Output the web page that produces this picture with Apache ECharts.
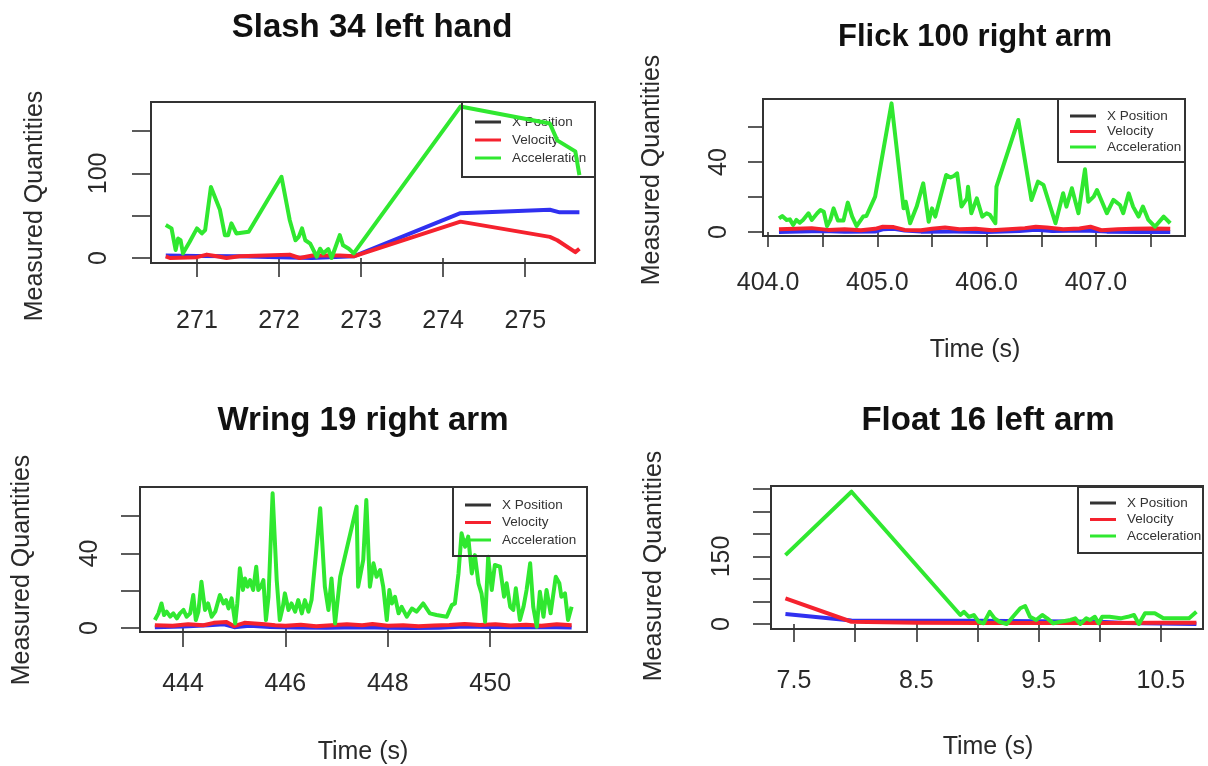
<!DOCTYPE html>
<html>
<head>
<meta charset="utf-8">
<script src="https://cdn.jsdelivr.net/npm/echarts@6.0.0/dist/echarts.min.js"></script>
<style>
html,body{margin:0;padding:0;background:#fff;}
#chart{width:1208px;height:766px;}
</style>
</head>
<body>
<div id="chart"></div>
<script>
// ---- data: [time (s), value] ----
const slashPos = [[270.62,3],[271.0,2.5],[271.5,2],[272.0,1],[272.4,0],[272.91,2],[274.21,53],[275.30,57],[275.42,54],[275.66,54]];
const slashVel = [[270.62,2],[270.67,0],[271.0,1],[271.12,4],[271.24,2],[271.36,0],[271.52,2],[272.13,4],[272.25,0],[272.41,3],[272.74,3],[272.91,2],[274.21,43],[275.30,25],[275.39,21],[275.61,7],[275.66,11]];
const slashAcc = [[270.62,39],[270.69,35],[270.71,33],[270.74,9.5],[270.77,23],[270.80,21],[270.83,5.5],[270.91,19],[271.00,35],[271.06,29],[271.10,33],[271.17,84],[271.28,57],[271.34,27],[271.38,27],[271.42,41],[271.48,29],[271.63,31],[272.03,96],[272.13,45],[272.20,21],[272.24,25],[272.28,35],[272.32,21],[272.38,17],[272.46,1.5],[272.50,11],[272.54,5.5],[272.60,10.6],[272.64,0],[272.68,10.6],[272.74,27],[272.78,15],[272.85,11],[272.91,5.5],[274.21,179],[275.30,159],[275.39,139],[275.61,126],[275.66,98]];

const flickPos = [[404.10,0],[404.30,0.3],[404.50,0.5],[404.70,0.2],[404.98,0.3],[405.05,1.5],[405.15,1.8],[405.25,0.8],[405.40,0.2],[405.70,0.3],[406.00,0],[406.30,0.5],[406.45,1.2],[406.60,0.6],[406.90,0.8],[407.10,0.2],[407.40,0],[407.68,0]];
const flickVel = [[404.10,1.5],[404.25,1.8],[404.40,2.2],[404.55,1.2],[404.70,1.5],[404.85,1.0],[404.98,1.8],[405.05,3.0],[405.15,2.8],[405.25,1.2],[405.40,1.0],[405.50,1.8],[405.62,2.6],[405.75,1.5],[405.90,1.8],[406.05,1.0],[406.20,1.5],[406.35,2.2],[406.45,3.0],[406.55,2.6],[406.70,1.5],[406.85,2.0],[406.95,3.0],[407.05,1.0],[407.20,1.5],[407.35,1.8],[407.50,2.0],[407.68,1.8]];
const flickAcc = [[404.10,7.8],[404.13,9.1],[404.17,6.9],[404.20,7.2],[404.23,4.0],[404.26,6.9],[404.29,5.3],[404.32,6.9],[404.37,10.7],[404.40,6.9],[404.45,10.7],[404.48,12.6],[404.51,11.6],[404.54,3.4],[404.57,6.9],[404.60,13.5],[404.64,6.5],[404.69,6.5],[404.73,16.8],[404.77,8.8],[404.81,3.4],[404.87,8.8],[404.90,9.1],[404.98,20.2],[405.13,73.5],[405.24,13.5],[405.26,17.3],[405.30,5.0],[405.36,14.5],[405.42,27.8],[405.47,5.9],[405.50,13.5],[405.53,8.8],[405.63,32.6],[405.67,31.2],[405.70,32],[405.73,33.5],[405.77,14.5],[405.82,19.2],[405.83,25.9],[405.86,10.7],[405.91,19.2],[405.96,8.8],[406.00,10.7],[406.03,9.8],[406.08,5.0],[406.09,25.9],[406.29,64],[406.41,18.3],[406.47,28.8],[406.52,26.9],[406.63,5.0],[406.70,22.1],[406.73,14.5],[406.78,25],[406.84,10.7],[406.90,35.8],[406.93,17.3],[406.98,20.2],[407.01,24],[407.10,10.7],[407.16,18.3],[407.22,15.4],[407.25,10.7],[407.30,22.1],[407.34,14.5],[407.39,8.8],[407.43,14.5],[407.48,6.9],[407.54,3.0],[407.62,8.8],[407.68,5.0]];

const wringPos = [[443.45,0.5],[444.0,0.8],[444.5,1.5],[444.8,2.0],[445.0,0.5],[445.3,1.2],[445.7,0.6],[446.2,0.3],[446.8,0.2],[447.5,0.4],[448.0,0.2],[448.5,0],[449.0,0.2],[449.5,0.8],[450.0,0.6],[450.5,0.4],[451.0,0.6],[451.59,0.3]];
const wringVel = [[443.45,1.5],[443.8,1.2],[444.1,2],[444.4,1.5],[444.6,2.8],[444.85,3.2],[445.0,1.0],[445.2,2.8],[445.4,2.5],[445.6,2.0],[445.8,1.5],[446.0,1.2],[446.3,1.8],[446.6,1.0],[446.9,1.5],[447.2,2.0],[447.5,1.5],[447.7,2.2],[448.0,1.2],[448.3,1.5],[448.6,1.0],[448.9,1.4],[449.2,1.6],[449.5,2.2],[449.8,1.6],[450.1,2.0],[450.4,1.4],[450.7,1.8],[451.0,1.2],[451.3,2.0],[451.59,1.5]];
const wringAcc = [[443.45,4.3],[443.52,7.9],[443.58,13.2],[443.63,7.0],[443.68,8.8],[443.75,6.1],[443.81,7.9],[443.88,5.2],[443.94,7.9],[444.01,9.7],[444.07,6.1],[444.14,7.9],[444.20,17.7],[444.25,4.3],[444.30,8.8],[444.36,24.8],[444.43,9.7],[444.49,13.2],[444.56,6.1],[444.63,8.8],[444.72,17.7],[444.79,13.2],[444.84,15.0],[444.89,10.5],[444.95,15.9],[445.02,2.5],[445.06,13.2],[445.11,32],[445.17,20.4],[445.21,26.6],[445.26,22.2],[445.31,25.7],[445.37,20.4],[445.43,32.9],[445.47,20.4],[445.52,22.2],[445.57,25.7],[445.62,4.3],[445.67,16.8],[445.75,72.2],[445.83,25.7],[445.89,4.3],[445.95,11.4],[445.99,18.6],[446.06,9.7],[446.12,13.2],[446.19,8.8],[446.25,15.0],[446.32,7.9],[446.38,15.0],[446.45,8.8],[446.51,15.0],[446.68,64.2],[446.77,22.2],[446.84,9.7],[446.90,26.6],[446.97,2.5],[447.07,27.5],[447.39,65.1],[447.42,22.2],[447.52,36.5],[447.58,68.6],[447.65,22.2],[447.72,34.7],[447.78,27.5],[447.85,31.1],[447.91,22.2],[447.98,4.3],[448.03,20.4],[448.08,13.2],[448.14,16.8],[448.21,7.9],[448.27,11.4],[448.37,6.1],[448.47,10.5],[448.56,8.8],[448.69,13.2],[448.82,7.9],[448.95,7.0],[449.15,6.1],[449.25,12.3],[449.31,13.2],[449.38,29.3],[449.44,50.8],[449.51,43.6],[449.57,49],[449.64,29.3],[449.70,39.1],[449.77,24],[449.83,18.6],[449.90,3.4],[449.96,38.2],[450.03,20.4],[450.09,33.8],[450.19,32.9],[450.27,16.8],[450.32,24],[450.39,11.4],[450.45,9.7],[450.50,21.3],[450.58,4.3],[450.65,11.4],[450.71,20.4],[450.78,34.7],[450.84,11.4],[450.91,0.7],[450.97,19.5],[451.04,6.1],[451.10,20.4],[451.18,7.9],[451.28,27.5],[451.35,24],[451.39,16.8],[451.46,18.6],[451.52,4.3],[451.59,11.4]];

const floatPos = [[7.43,22],[7.97,8],[8.5,7],[9.0,7],[9.5,6],[10.0,5],[10.2,2],[10.79,0]];
const floatVel = [[7.43,57],[7.97,5],[8.5,3],[9.0,2],[9.5,2],[10.0,2],[10.5,3],[10.79,3]];
const floatAcc = [[7.43,153],[7.97,294],[8.86,20],[8.89,27],[8.93,16],[8.97,20],[9.01,5],[9.05,1.5],[9.10,27],[9.14,12.6],[9.18,5],[9.24,0],[9.29,16],[9.35,35],[9.39,40],[9.43,16],[9.48,9],[9.53,20],[9.57,12.6],[9.62,1.5],[9.68,5],[9.76,9],[9.80,12.6],[9.84,0],[9.89,12.6],[9.92,9],[9.96,16],[9.99,1.5],[10.02,16],[10.08,16],[10.17,12.6],[10.23,16],[10.28,20],[10.32,0],[10.37,24],[10.45,24],[10.52,12.6],[10.62,12.6],[10.73,12.6],[10.79,27]];

const titles = ['Slash 34 left hand', 'Flick 100 right arm', 'Wring 19 right arm', 'Float 16 left arm'];
const seriesNames = ['X Position', 'Velocity', 'Acceleration'];
const slashXTicks = [271, 272, 273, 274, 275];
const flickXTicks = [404, 404.5, 405, 405.5, 406, 406.5, 407, 407.5];
const flickXLabels = [404, 405, 406, 407];
const wringXTicks = [444, 446, 448, 450];
const floatXTicks = [7.5, 8, 8.5, 9, 9.5, 10, 10.5];
const floatXLabels = [7.5, 8.5, 9.5, 10.5];
const slashYTicks = [0, 50, 100, 150];
const slashYLabels = [0, 100];
const smallYTicks = [0, 20, 40, 60];
const smallYLabels = [0, 40];
const floatYTicks = [0, 50, 100, 150, 200, 250, 300];
const floatYLabels = [0, 150];

const FONT = '"Liberation Sans", Arial, Helvetica, sans-serif';
const COLORS = ['#3030f0', '#f5222e', '#30e830'];
const INK = '#2a2a2a';

const panels = [
  { data: [slashPos, slashVel, slashAcc], box: [151, 102, 444, 161], x: [270.44, 275.85], y: [-5.9, 184.4],
    xTicks: slashXTicks, xLabels: slashXTicks, yTicks: slashYTicks, yLabels: slashYLabels, fmt: 0,
    xMargin: 46, yMargin: 39, tick: 19, title: [372, 28, 33], ylab: [35, 206], xlab: null,
    legend: [462, 102, 133, 75, 475, 122, 18] },
  { data: [flickPos, flickVel, flickAcc], box: [763, 99, 422, 137], x: [403.954, 407.815], y: [-2.3, 76],
    xTicks: flickXTicks, xLabels: flickXLabels, yTicks: smallYTicks, yLabels: smallYLabels, fmt: 1,
    xMargin: 35, yMargin: 31, tick: 15, title: [975, 37, 31], ylab: [652, 170], xlab: [975, 350],
    legend: [1058, 99, 127, 63, 1070, 116, 15.5] },
  { data: [wringPos, wringVel, wringAcc], box: [140, 487, 447, 145], x: [443.16, 451.89], y: [-2.1, 75.6],
    xTicks: wringXTicks, xLabels: wringXTicks, yTicks: smallYTicks, yLabels: smallYLabels, fmt: 0,
    xMargin: 40, yMargin: 37, tick: 19, title: [363, 421, 33], ylab: [22, 570], xlab: [363, 752],
    legend: [453, 487, 134, 69, 465, 505, 17.5] },
  { data: [floatPos, floatVel, floatAcc], box: [771, 486, 432, 143], x: [7.312, 10.844], y: [-11.1, 306.7],
    xTicks: floatXTicks, xLabels: floatXLabels, yTicks: floatYTicks, yLabels: floatYLabels, fmt: 1,
    xMargin: 40, yMargin: 36, tick: 18, title: [988, 421, 33], ylab: [654, 566], xlab: [988, 747],
    legend: [1078, 487, 125, 66, 1090, 503, 16.5] }
];

const grid = [], xAxis = [], yAxis = [], series = [], legend = [], graphic = [];

panels.forEach((p, i) => {
  grid.push({ left: p.box[0], top: p.box[1], width: p.box[2], height: p.box[3],
    show: true, borderColor: '#333', borderWidth: 2, backgroundColor: 'transparent' });
  xAxis.push({
    gridIndex: i, type: 'value', min: p.x[0], max: p.x[1],
    axisLine: { show: false }, splitLine: { show: false },
    axisTick: { show: true, length: p.tick, lineStyle: { color: '#333', width: 1.6 }, customValues: p.xTicks },
    axisLabel: { customValues: p.xLabels, margin: p.xMargin, fontSize: 25, color: INK, fontFamily: FONT,
      formatter: v => p.fmt ? v.toFixed(1) : String(v) }
  });
  yAxis.push({
    gridIndex: i, type: 'value', min: p.y[0], max: p.y[1],
    axisLine: { show: false }, splitLine: { show: false },
    axisTick: { show: true, length: p.tick, lineStyle: { color: '#333', width: 1.6 }, customValues: p.yTicks },
    axisLabel: { customValues: p.yLabels, margin: p.yMargin, fontSize: 25, color: INK, fontFamily: FONT,
      rotate: 90, align: 'center', verticalAlign: 'bottom' }
  });
  p.data.forEach((d, k) => {
    series.push({
      name: seriesNames[k], type: 'line', xAxisIndex: i, yAxisIndex: i, data: d,
      symbol: 'none', silent: true, animation: false, z: 2 + k,
      lineStyle: { color: COLORS[k], width: 4, join: 'round' }, itemStyle: { color: COLORS[k] }
    });
  });
  const L = p.legend;
  legend.push({
    orient: 'vertical', left: L[4], top: L[5] - 7, padding: 0, itemGap: L[6] - 14,
    itemWidth: 26, itemHeight: 3, icon: 'rect', selectedMode: false,
    textStyle: { fontSize: 13.5, lineHeight: 14, color: '#333', fontFamily: FONT, padding: [0, 0, 0, 6] },
    data: [{ name: 'X Position', itemStyle: { color: '#333' } }, 'Velocity', 'Acceleration']
  });
  graphic.push({ type: 'rect', shape: { x: L[0], y: L[1], width: L[2], height: L[3] },
    style: { fill: 'none', stroke: '#333', lineWidth: 2 }, z: 10 });
  graphic.push({ type: 'text', x: p.title[0], y: p.title[1], z: 10,
    style: { text: titles[i], font: 'bold ' + p.title[2] + 'px ' + FONT, fill: '#111',
      align: 'center', verticalAlign: 'middle', textAlign: 'center', textVerticalAlign: 'middle' } });
  graphic.push({ type: 'text', x: p.ylab[0], y: p.ylab[1], rotation: Math.PI / 2, z: 10,
    style: { text: 'Measured Quantities', font: '25px ' + FONT, fill: INK,
      align: 'center', verticalAlign: 'middle', textAlign: 'center', textVerticalAlign: 'middle' } });
  if (p.xlab) {
    graphic.push({ type: 'text', x: p.xlab[0], y: p.xlab[1], z: 10,
      style: { text: 'Time (s)', font: '25px ' + FONT, fill: INK,
        align: 'center', verticalAlign: 'middle', textAlign: 'center', textVerticalAlign: 'middle' } });
  }
});

const chart = echarts.init(document.getElementById('chart'), null, { renderer: 'canvas' });
chart.setOption({
  backgroundColor: '#fff',
  animation: false,
  grid, xAxis, yAxis, series, legend, graphic
});
</script>
</body>
</html>
